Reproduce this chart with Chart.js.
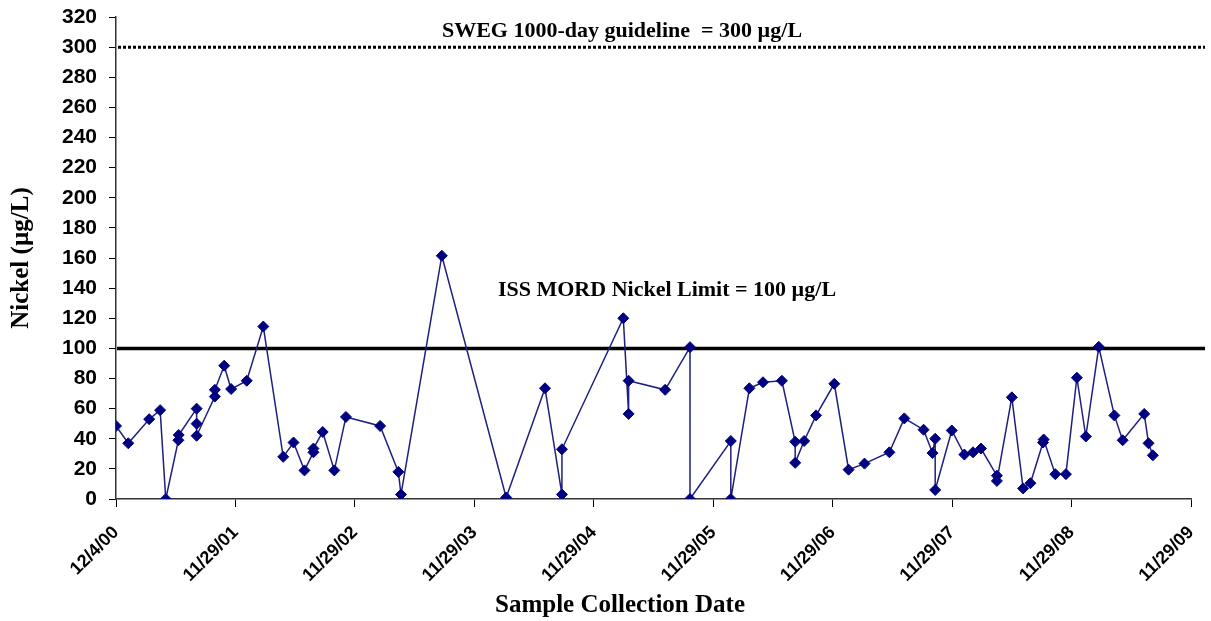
<!DOCTYPE html>
<html>
<head>
<meta charset="utf-8">
<script src="https://cdn.jsdelivr.net/npm/chart.js@4.4.1/dist/chart.umd.min.js"></script>
<style>
  html, body { margin: 0; padding: 0; background: #fff; }
  #wrap { width: 1211px; height: 621px; }
</style>
</head>
<body>
<div id="wrap"><canvas id="myChart" width="1211" height="621"></canvas></div>
<script>
// days since 12/4/00 (axis runs 360 days per labelled tick)
const sampleDays = [
    0, 37, 100, 133, 150, 188, 189, 243, 243, 243,
    298, 298, 326, 347, 394, 444, 504, 535, 568, 595,
    595, 623, 658, 693, 796, 851, 859, 982, 1176, 1293,
    1344, 1344, 1529, 1545, 1545, 1655, 1730, 1730, 1853, 1853,
    1909, 1950, 2007, 2047, 2047, 2074, 2110, 2165, 2208, 2256,
    2331, 2376, 2434, 2461, 2469, 2469, 2519, 2557, 2583, 2607,
    2655, 2655, 2700, 2734, 2756, 2794, 2796, 2831, 2863, 2896,
    2923, 2962, 3009, 3034, 3099, 3112, 3125
];
// nickel, ug/L
const nickel = [
    48.5, 37, 53, 59, 0, 39, 42.5, 60, 50, 42,
    68, 72.5, 88.5, 73, 78.5, 114.5, 28, 37.5, 19, 31,
    33.5, 44.5, 19, 54.5, 48.5, 18, 3, 161.5, 1, 73.5,
    3, 33, 120, 56.5, 78.5, 72.5, 100.8, 0, 38.5, 0,
    73.5, 77.5, 78.5, 38, 24, 38.5, 55.5, 76.5, 19.5, 23.5,
    31, 53.5, 46, 30.5, 40, 6, 45.5, 29.5, 31, 33.5,
    15.5, 12, 67.5, 7, 10.5, 37.5, 39.5, 16.5, 16.5, 80.5,
    41.5, 101, 55.5, 39, 56.5, 37, 29
];
const tickLabels = ['12/4/00', '11/29/01', '11/29/02', '11/29/03', '11/29/04',
    '11/29/05', '11/29/06', '11/29/07', '11/29/08', '11/29/09'];
const swegLimit = 300;
const mordLimit = 100;

const serif = '"Liberation Serif", "Times New Roman", serif';
const sans = '"Liberation Sans", Arial, sans-serif';

// limit lines + text labels
const extras = {
    id: 'extras',
    beforeDatasetsDraw(chart) {
        const ctx = chart.ctx;
        const y = chart.scales.y;
        const area = chart.chartArea;
        const right = area.right + 14;
        ctx.save();
        ctx.strokeStyle = '#000';
        ctx.lineWidth = 3;
        ctx.setLineDash([3, 2]);
        ctx.beginPath();
        ctx.moveTo(area.left + 2, y.getPixelForValue(swegLimit));
        ctx.lineTo(right, y.getPixelForValue(swegLimit));
        ctx.stroke();
        ctx.setLineDash([]);
        ctx.lineWidth = 3.5;
        ctx.beginPath();
        ctx.moveTo(area.left + 1, y.getPixelForValue(mordLimit));
        ctx.lineTo(right, y.getPixelForValue(mordLimit));
        ctx.stroke();
        ctx.restore();
    },
    afterDraw(chart) {
        const ctx = chart.ctx;
        const y = chart.scales.y;
        ctx.save();
        ctx.fillStyle = '#000';
        ctx.textAlign = 'center';
        ctx.textBaseline = 'middle';
        ctx.font = 'bold 22px ' + serif;
        ctx.fillText('SWEG 1000-day guideline  = ' + swegLimit + ' µg/L', 622, y.getPixelForValue(swegLimit) - 16);
        ctx.fillText('ISS MORD Nickel Limit = ' + mordLimit + ' µg/L', 667, y.getPixelForValue(mordLimit) - 58);
        ctx.font = 'bold 25px ' + serif;
        ctx.fillText('Sample Collection Date', 620, 606);
        ctx.translate(22, (chart.chartArea.top + chart.chartArea.bottom) / 2);
        ctx.rotate(-Math.PI / 2);
        ctx.fillText('Nickel (µg/L)', 0, 0);
        ctx.restore();
    }
};

const points = sampleDays.map((d, i) => ({ x: d, y: nickel[i] }));

const ctx = document.getElementById('myChart').getContext('2d');
const chart = new Chart(ctx, {
    type: 'line',
    data: {
        datasets: [{
            label: 'Nickel',
            data: points,
            borderColor: '#1f1f80',
            borderWidth: 1.5,
            pointStyle: 'rectRot',
            pointRadius: 5.5,
            pointBackgroundColor: '#000080',
            pointBorderColor: '#000080',
            pointBorderWidth: 1,
            tension: 0,
            fill: false
        }]
    },
    options: {
        responsive: false,
        animation: false,
        layout: { padding: { top: 17, right: 20, left: 0, bottom: 0 } },
        plugins: {
            legend: { display: false },
            tooltip: { enabled: false }
        },
        scales: {
            x: {
                type: 'linear',
                min: 0,
                max: 3240,
                afterFit(scale) {
                    scale.height = 122;
                    scale.paddingLeft = 0;
                    scale.paddingRight = 0;
                },
                grid: { drawOnChartArea: false, drawTicks: true, tickLength: 8, color: '#000' },
                border: { display: true, color: '#333', width: 1.5 },
                ticks: {
                    stepSize: 360,
                    autoSkip: false,
                    maxRotation: 45,
                    minRotation: 45,
                    padding: 15,
                    color: '#000',
                    font: { family: sans, size: 18, weight: 'bold' },
                    callback: (v) => tickLabels[Math.round(v / 360)]
                }
            },
            y: {
                min: 0,
                max: 320,
                afterFit(scale) {
                    scale.width = 116;
                    scale.paddingTop = 0;
                    scale.paddingBottom = 0;
                },
                grid: { drawOnChartArea: false, drawTicks: true, tickLength: 7, color: '#000' },
                border: { display: true, color: '#333', width: 1.5 },
                ticks: {
                    stepSize: 20,
                    padding: 12,
                    color: '#000',
                    font: { family: sans, size: 21, weight: 'bold' }
                }
            }
        }
    },
    plugins: [extras]
});
</script>
</body>
</html>
